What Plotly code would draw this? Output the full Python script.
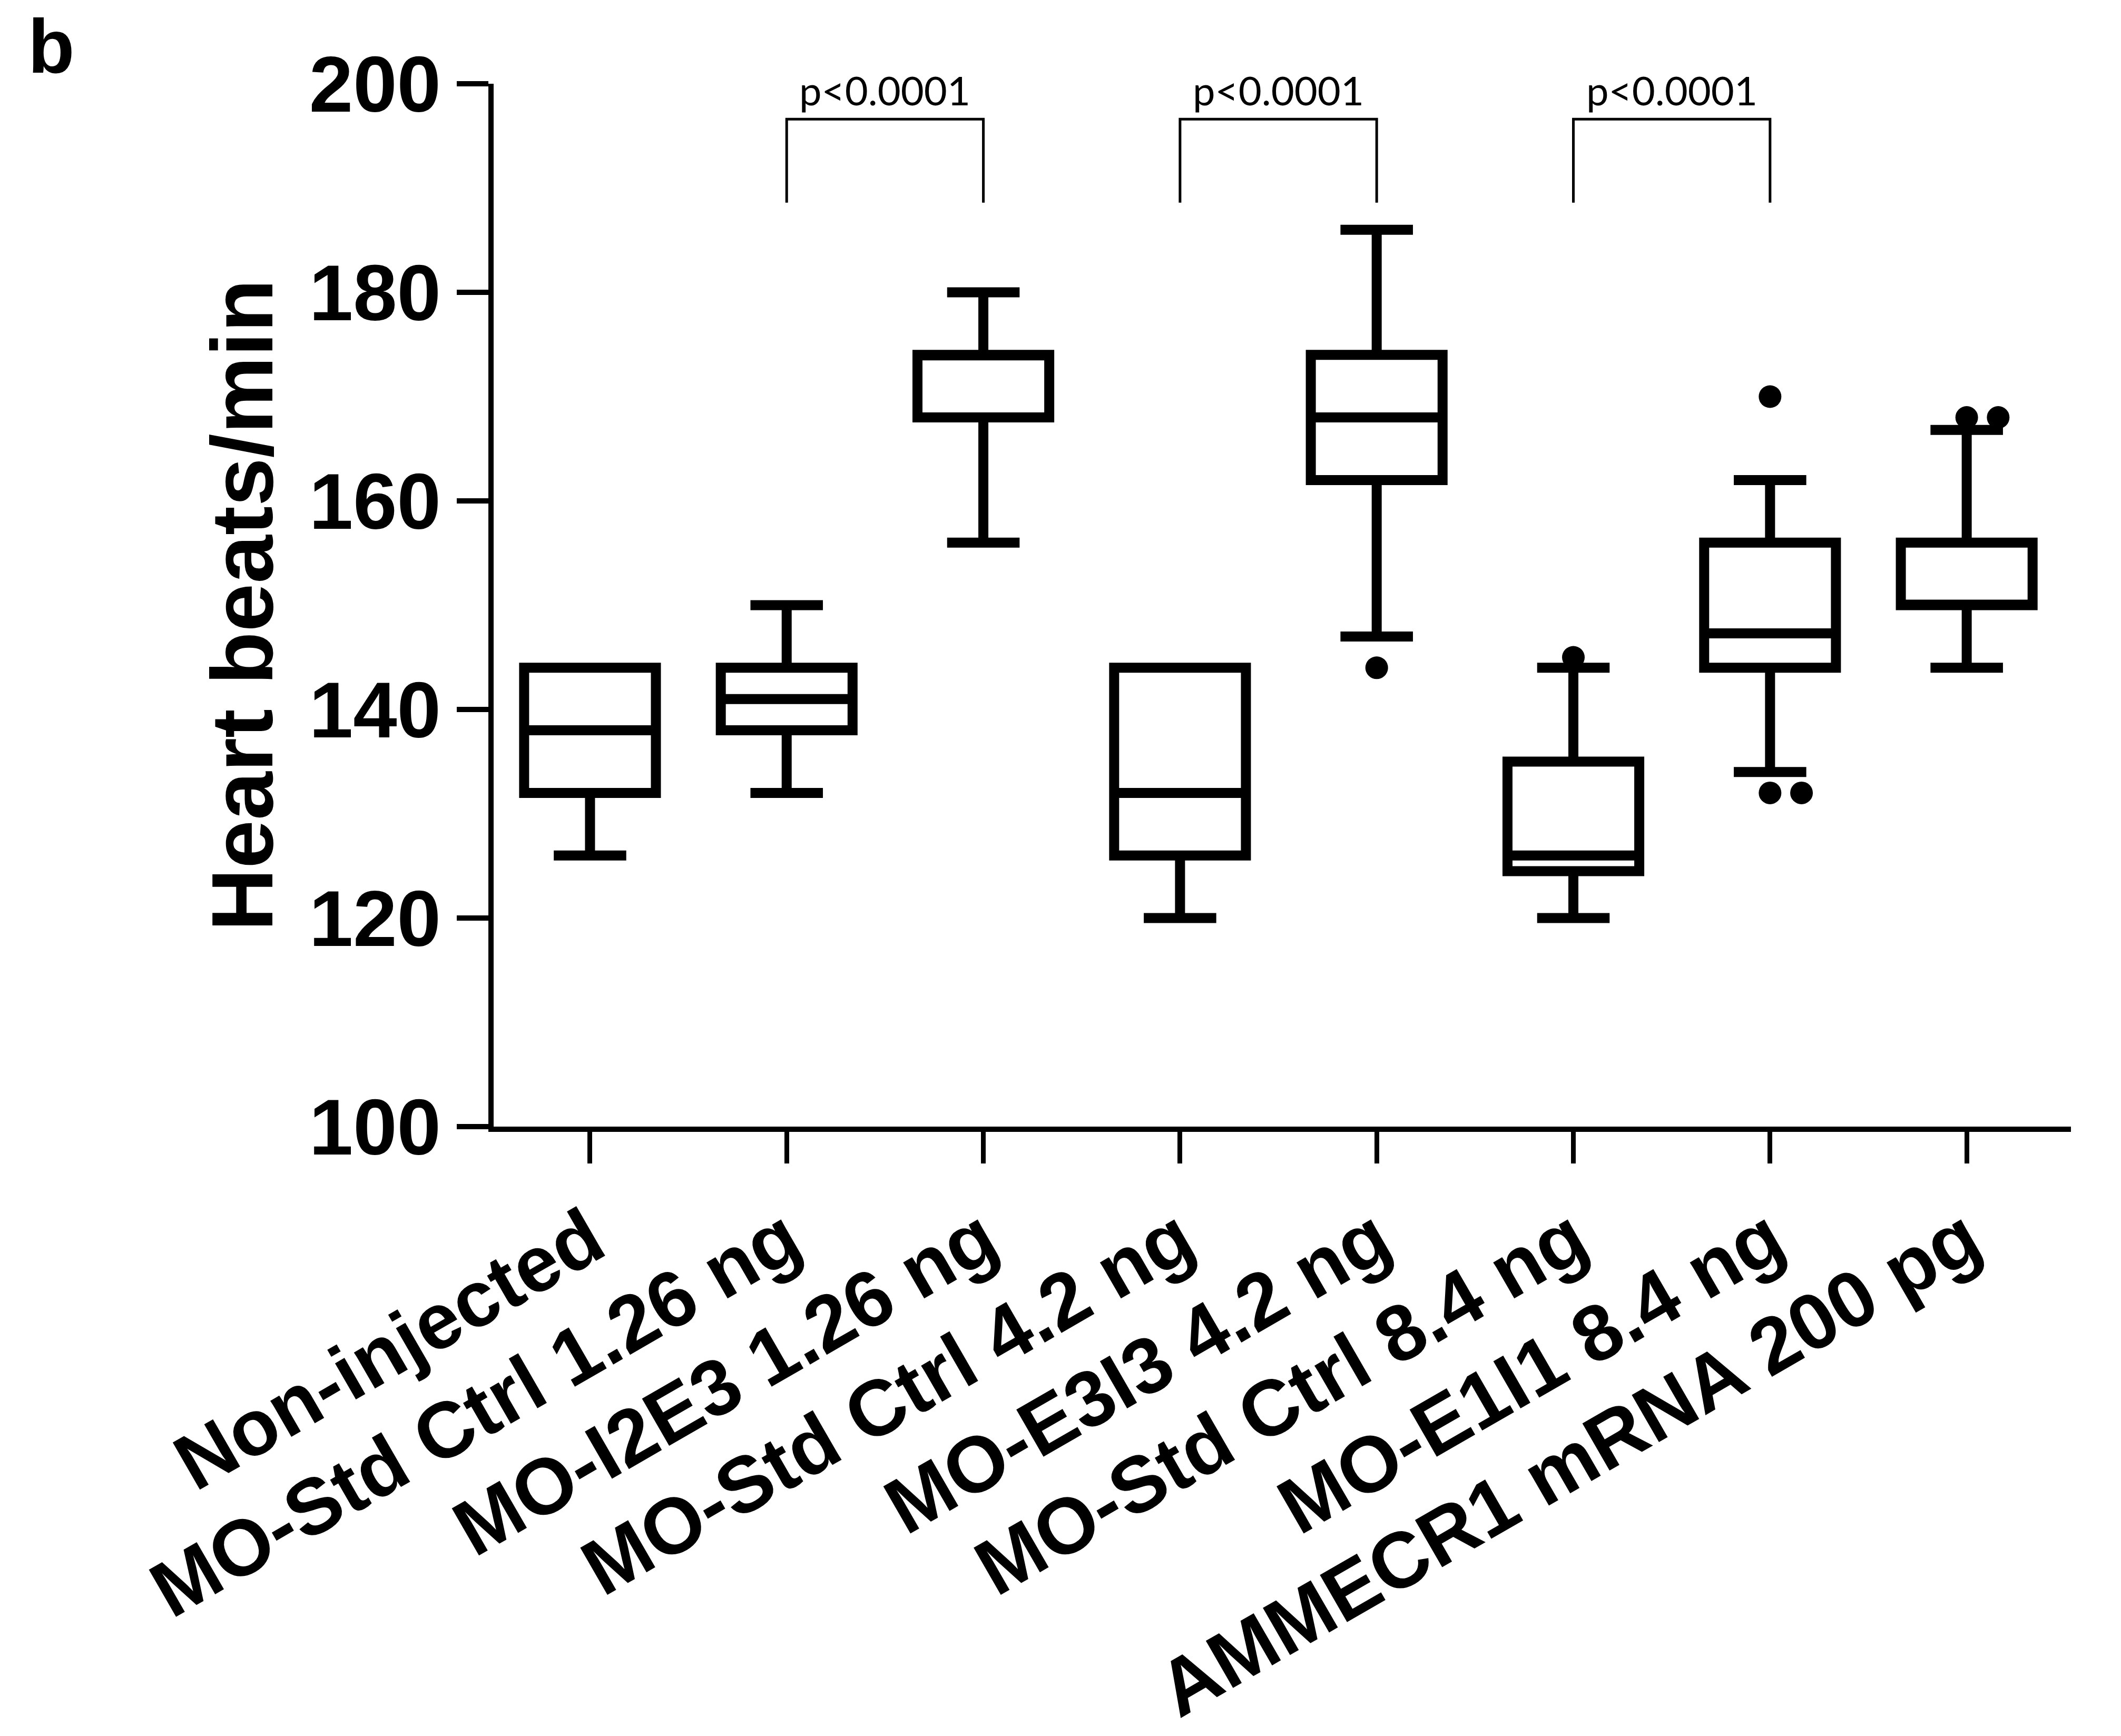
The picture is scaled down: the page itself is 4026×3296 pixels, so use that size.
import plotly.graph_objects as go

# ---------------- data ----------------
categories = [
    "Non-injected",
    "MO-Std Ctrl 1.26 ng",
    "MO-I2E3 1.26 ng",
    "MO-Std Ctrl 4.2 ng",
    "MO-E3I3 4.2 ng",
    "MO-Std Ctrl 8.4 ng",
    "MO-E1I1 8.4 ng",
    "AMMECR1 mRNA 200 pg",
]
lower_whisker = [126, 132, 156, 120, 147, 120, 134, 144]
q1_values     = [132, 138, 168, 126, 162, 124.5, 144, 150]
median_values = [138, 141, 174, 132, 168, 126, 147.3, 150]
q3_values     = [144, 144, 174, 144, 174, 135, 156, 156]
upper_whisker = [144, 150, 180, 144, 186, 144, 162, 166.8]

# outliers: category index and value
outlier_group = [4, 5, 6, 6, 6, 7, 7]
outlier_value = [144, 145, 170, 132, 132, 168, 168]

# significance comparisons (category index pairs)
comparison_left = [1, 3, 5]
comparison_right = [2, 4, 6]
comparison_label = ["p<0.0001", "p<0.0001", "p<0.0001"]

y_ticks = [100, 120, 140, 160, 180, 200]

# ---------------- styling ----------------
FONT = "Liberation Sans, Arial, sans-serif"
BLACK = "black"
positions = list(range(len(categories)))

fig = go.Figure()

fig.add_trace(go.Box(
    x=positions,
    q1=q1_values,
    median=median_values,
    q3=q3_values,
    lowerfence=lower_whisker,
    upperfence=upper_whisker,
    width=0.67,
    whiskerwidth=0.55,
    line=dict(color=BLACK, width=19),
    fillcolor="rgba(255,255,255,0)",
    boxpoints=False,
    hoverinfo="skip",
))

# side-by-side placement of repeated outliers
dodge = 0.16
seen = {}
ox = []
for g, v in zip(outlier_group, outlier_value):
    k = seen.get((g, v), 0)
    seen[(g, v)] = k + 1
    ox.append(g + dodge * k)

fig.add_trace(go.Scatter(
    x=ox, y=outlier_value, mode="markers",
    marker=dict(color=BLACK, size=43, line=dict(width=0)),
    hoverinfo="skip",
))

# significance brackets
bracket_top = 196.6
bracket_leg = 188.6
for a, b, lab in zip(comparison_left, comparison_right, comparison_label):
    fig.add_trace(go.Scatter(
        x=[a, a, b, b], y=[bracket_leg, bracket_top, bracket_top, bracket_leg],
        mode="lines", line=dict(color=BLACK, width=5), hoverinfo="skip",
    ))
    fig.add_annotation(
        x=(a + b) / 2, y=bracket_top, xref="x", yref="y",
        text=lab, showarrow=False, yanchor="bottom", yshift=8,
        font=dict(family="Lato, Open Sans, sans-serif", size=76, color=BLACK),
    )

# panel letter
fig.add_annotation(
    x=-0.296, y=1.078, xref="paper", yref="paper",
    text="b", showarrow=False, xanchor="left", yanchor="top",
    font=dict(family=FONT, size=145, color=BLACK, weight=700),
)

fig.update_layout(
    width=4026, height=3296,
    margin=dict(l=929, r=103, t=151, b=1157),
    plot_bgcolor="white", paper_bgcolor="white",
    showlegend=False,
)

fig.update_xaxes(
    range=[-0.49, 7.53],
    tickmode="array", tickvals=positions, ticktext=categories,
    tickangle=-30,
    ticks="outside", ticklen=60, tickwidth=9, tickcolor=BLACK,
    showline=True, linewidth=10, linecolor=BLACK,
    showgrid=False, zeroline=False,
    tickfont=dict(family=FONT, size=150, color=BLACK, weight=700),
)

fig.update_yaxes(
    range=[100, 200],
    tickmode="array", tickvals=y_ticks,
    ticks="outside", ticklen=60, tickwidth=10, tickcolor=BLACK,
    showline=True, linewidth=10, linecolor=BLACK,
    showgrid=False, zeroline=False,
    tickfont=dict(family=FONT, size=150, color=BLACK, weight=700),
    title=dict(text="Heart beats/min", standoff=17,
               font=dict(family=FONT, size=165, color=BLACK, weight=700)),
)

fig.write_html("out.html")
